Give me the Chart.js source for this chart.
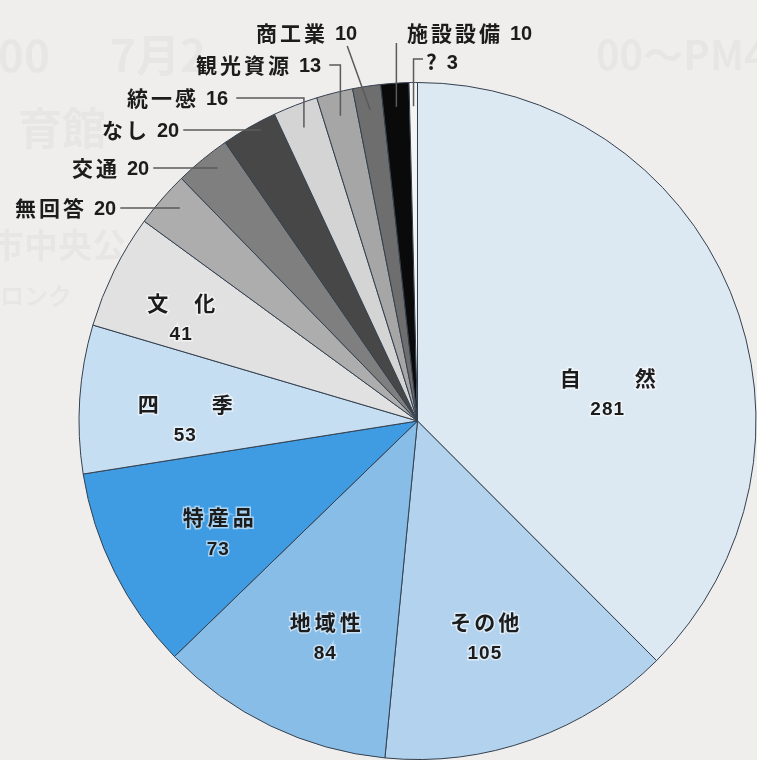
<!DOCTYPE html>
<html>
<head>
<meta charset="utf-8">
<script src="https://cdn.jsdelivr.net/npm/chart.js@4.4.1/dist/chart.umd.min.js"></script>
<style>
  html, body { margin: 0; padding: 0; background: #efeeec; }
  #wrap { width: 757px; height: 760px; position: relative; }
</style>
</head>
<body>
<div id="wrap"><canvas id="canvas"></canvas></div>
<script>
var categories = ['自然', 'その他', '地域性', '特産品', '四季', '文化', '無回答', '交通', 'なし', '統一感', '観光資源', '商工業', '施設設備', '?'];
var counts = [281, 105, 84, 73, 53, 41, 20, 20, 20, 16, 13, 10, 10, 3];
var sliceColors = ['#dce8f2', '#b3d2ee', '#88bde8', '#3f9be2', '#c6def2', '#e1e1e1',
                   '#adadad', '#7f7f7f', '#474747', '#d4d4d4', '#a6a6a6', '#6e6e6e', '#0a0a0a', '#f4f4f4'];

// label layout: inside labels sit at a clock angle (deg) and fraction of the radius
var insideLabels = {
  0: { angle: 81.6, r: 0.568, pitch: 75 },
  1: { angle: 162.7, r: 0.669, pitch: 24 },
  2: { angle: 203.1, r: 0.694, pitch: 25 },
  3: { angle: 240.8, r: 0.674, pitch: 25 },
  4: { angle: 270.5, r: 0.686, pitch: 74 },
  5: { angle: 293.6, r: 0.762, pitch: 47 }
};
// outside labels: text left edge / middle line, and how the leader is drawn
var outsideLabels = {
  6: { x: 15, y: 208, leader: 'h' },
  7: { x: 72, y: 168, leader: 'h' },
  8: { x: 102, y: 130, leader: 'h' },
  9: { x: 127, y: 98, leader: 'elbow' },
  10: { x: 196, y: 65, leader: 'elbow' },
  11: { x: 256, y: 33, leader: 'diag' },
  12: { x: 407, y: 33, leader: 'v' },
  13: { x: 426, y: 62, leader: 'hook' }
};

var FONT = '"Noto Sans CJK JP", "Noto Sans", sans-serif';
var NUMFONT = '"Liberation Sans", sans-serif';

var ghostText = {
  id: 'ghostText',
  beforeDraw: function (chart) {
    var ctx = chart.ctx;
    ctx.save();
    ctx.fillStyle = 'rgba(0,0,0,0.03)';
    ctx.textBaseline = 'middle';
    ctx.font = 'bold 44px ' + FONT;
    ctx.fillText('00', -2, 55);
    ctx.fillText('7月2', 110, 55);
    ctx.fillText('育館', 18, 128);
    ctx.font = 'bold 40px ' + FONT;
    ctx.fillText('00～PM4', 596, 55);
    ctx.font = 'bold 34px ' + FONT;
    ctx.fillText('市中央公', -10, 245);
    ctx.font = 'bold 24px ' + FONT;
    ctx.fillText('ロンク', 0, 296);
    ctx.restore();
  }
};

function clockPoint(cx, cy, deg, dist) {
  var a = deg * Math.PI / 180;
  return { x: cx + dist * Math.sin(a), y: cy - dist * Math.cos(a) };
}

var pieLabels = {
  id: 'pieLabels',
  afterDatasetsDraw: function (chart) {
    var ctx = chart.ctx;
    var meta = chart.getDatasetMeta(0);
    ctx.save();
    ctx.textBaseline = 'middle';
    meta.data.forEach(function (arc, i) {
      var p = arc.getProps(['x', 'y', 'startAngle', 'endAngle', 'outerRadius'], true);
      var mid = ((p.startAngle + p.endAngle) / 2 + Math.PI / 2) * 180 / Math.PI;
      var lab = insideLabels[i];
      ctx.fillStyle = '#1c1c1c';
      if (lab) {
        var c = clockPoint(p.x, p.y, lab.angle, lab.r * p.outerRadius);
        var name = categories[i];
        var n = name.length;
        ctx.textAlign = 'center';
        ctx.letterSpacing = '0px';
        ctx.font = 'bold 21px ' + FONT;
        ctx.lineWidth = 3;
        ctx.strokeStyle = 'rgba(255,255,255,0.55)';
        for (var k = 0; k < n; k++) {
          var cxk = c.x + (k - (n - 1) / 2) * lab.pitch;
          ctx.strokeText(name[k], cxk, c.y - 15);
          ctx.fillText(name[k], cxk, c.y - 15);
        }
        ctx.font = 'bold 19px ' + NUMFONT;
        ctx.letterSpacing = '1px';
        ctx.strokeText(String(counts[i]), c.x, c.y + 17);
        ctx.fillText(String(counts[i]), c.x, c.y + 17);
      }
      var out = outsideLabels[i];
      if (out) {
        var anchor = clockPoint(p.x, p.y, mid, 0.93 * p.outerRadius);
        ctx.textAlign = 'left';
        ctx.font = 'bold 21px ' + FONT;
        ctx.letterSpacing = '3px';
        ctx.fillText(categories[i], out.x, out.y);
        var w1 = ctx.measureText(categories[i]).width;
        ctx.font = 'bold 20px ' + NUMFONT;
        ctx.letterSpacing = '0px';
        var numX = out.x + w1 + 7;
        ctx.fillText(String(counts[i]), numX, out.y + 1);
        var right = numX + ctx.measureText(String(counts[i])).width;
        ctx.strokeStyle = '#5a5a5a';
        ctx.lineWidth = 1.5;
        ctx.beginPath();
        if (out.leader === 'h') {
          ctx.moveTo(right + 4, out.y);
          ctx.lineTo(anchor.x, out.y);
        } else if (out.leader === 'elbow') {
          ctx.moveTo(right + 8, out.y);
          ctx.lineTo(anchor.x, out.y);
          ctx.lineTo(anchor.x, anchor.y);
        } else if (out.leader === 'diag') {
          ctx.moveTo(right - 10, out.y + 13);
          ctx.lineTo(anchor.x, anchor.y);
        } else if (out.leader === 'v') {
          ctx.moveTo(anchor.x, out.y + 10);
          ctx.lineTo(anchor.x, anchor.y);
        } else if (out.leader === 'hook') {
          ctx.moveTo(out.x - 3, out.y - 3);
          ctx.lineTo(anchor.x, out.y - 3);
          ctx.lineTo(anchor.x, anchor.y);
        }
        ctx.stroke();
      }
    });
    ctx.restore();
  }
};

var ctx = document.getElementById('canvas').getContext('2d');

var myPie = new Chart(ctx, {
  type: 'pie',
  data: {
    labels: categories,
    datasets: [{
      data: counts,
      backgroundColor: sliceColors,
      borderColor: '#34404e',
      borderWidth: 1
    }]
  },
  options: {
    responsive: true,
    maintainAspectRatio: false,
    animation: false,
    layout: {
      padding: { left: 78, right: 0, top: 82, bottom: 0 }
    },
    plugins: {
      legend: { display: false },
      tooltip: { enabled: false }
    }
  },
  plugins: [ghostText, pieLabels]
});
</script>
</body>
</html>
